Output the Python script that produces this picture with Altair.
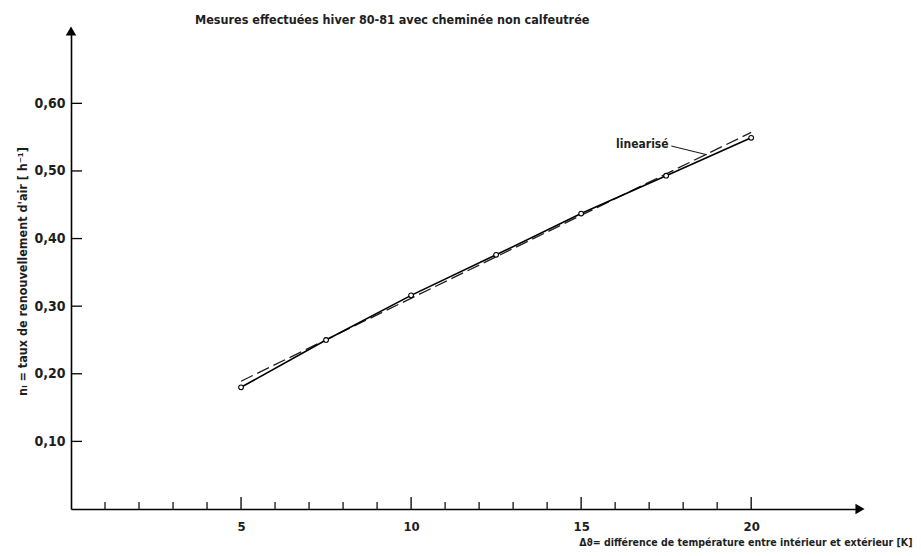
import altair as alt
import pandas as pd

# ---- data ----
delta_t = [5, 7.5, 10, 12.5, 15, 17.5, 20]
n_l = [0.180, 0.250, 0.316, 0.376, 0.437, 0.493, 0.549]

lin_x = [5, 20]
lin_y = [0.189, 0.557]

x_major_ticks = [5, 10, 15, 20]
x_minor_ticks = [1, 2, 3, 4, 6, 7, 8, 9, 11, 12, 13, 14, 16, 17, 18, 19]
y_ticks = [0.1, 0.2, 0.3, 0.4, 0.5, 0.6]

X_MAX = 23.2
Y_MAX = 0.707

label_text = ["linearisé"]
label_x = [16.8]
label_y = [0.540]
leader_x = [17.65, 18.7]
leader_y = [0.537, 0.524]

FONT = "DejaVu Sans Condensed, Liberation Sans, DejaVu Sans, sans-serif"
INK = "#1e1e1e"
W, H = 789, 478

meas = pd.DataFrame({"x": delta_t, "y": n_l})
lin = pd.DataFrame({"x": lin_x, "y": lin_y})
xmaj = pd.DataFrame({"x": x_major_ticks})
xmin = pd.DataFrame({"x": x_minor_ticks})
yt = pd.DataFrame({"y": y_ticks})
lab = pd.DataFrame({"x": label_x, "y": label_y, "t": label_text})
lead = pd.DataFrame({"x": leader_x, "y": leader_y})
arr_x = pd.DataFrame({"x": [X_MAX], "y": [0.0]})
arr_y = pd.DataFrame({"x": [0.0], "y": [Y_MAX]})

xs = alt.Scale(domain=[0, X_MAX], nice=False, zero=False)
ys = alt.Scale(domain=[0, Y_MAX], nice=False, zero=False)

xaxis = alt.Axis(
    values=x_major_ticks, ticks=False, grid=False, domain=True,
    domainColor="black", domainWidth=1.6, labelPadding=11,
    labelFont=FONT, labelFontSize=13, labelFontWeight="bold", labelColor=INK,
    title="Δϑ= différence de température entre intérieur et extérieur [K]",
    titleFont=FONT, titleFontSize=10.5, titleFontWeight="bold", titleColor=INK,
    titleAnchor="end", titleAlign="right", titleX=W + 52, titleY=38,
    titleBaseline="bottom",
)
yaxis = alt.Axis(
    values=y_ticks, ticks=False, grid=False, domain=True,
    domainColor="black", domainWidth=1.6, labelPadding=6,
    labelExpr="replace(format(datum.value, '.2f'), '.', ',')",
    labelFont=FONT, labelFontSize=14, labelFontWeight="bold", labelColor=INK,
    title="nₗ = taux de renouvellement d'air  [ h⁻¹]",
    titleFont=FONT, titleFontSize=12.5, titleFontWeight="bold", titleColor=INK,
    titleX=-49, titleY=240, titleAngle=-90, titleBaseline="middle",
)

base = alt.Chart(meas).encode(
    x=alt.X("x:Q", scale=xs, axis=xaxis),
    y=alt.Y("y:Q", scale=ys, axis=yaxis),
)

line = base.mark_line(color="black", strokeWidth=1.6)
pts = base.mark_point(shape="circle", size=22, filled=True, fill="white",
                      stroke="black", strokeWidth=1.1, opacity=1)

dash = alt.Chart(lin).mark_line(color=INK, strokeWidth=1.3, strokeDash=[13, 5]).encode(
    x=alt.X("x:Q", scale=xs), y=alt.Y("y:Q", scale=ys))

tmin = alt.Chart(xmin).mark_rule(color="black", strokeWidth=1.2).encode(
    x=alt.X("x:Q", scale=xs), y=alt.value(H), y2=alt.value(H - 7))
tmaj = alt.Chart(xmaj).mark_rule(color="black", strokeWidth=1.3).encode(
    x=alt.X("x:Q", scale=xs), y=alt.value(H), y2=alt.value(H - 12))
ytk = alt.Chart(yt).mark_rule(color="black", strokeWidth=1.3).encode(
    y=alt.Y("y:Q", scale=ys), x=alt.value(0), x2=alt.value(11))

ax_arrow = alt.Chart(arr_x).mark_point(shape="triangle-right", size=110, filled=True,
                                       color="black", opacity=1).encode(
    x=alt.X("x:Q", scale=xs), y=alt.Y("y:Q", scale=ys))
ay_arrow = alt.Chart(arr_y).mark_point(shape="triangle-up", size=110, filled=True,
                                       color="black", opacity=1).encode(
    x=alt.X("x:Q", scale=xs), y=alt.Y("y:Q", scale=ys))

ann = alt.Chart(lab).mark_text(font=FONT, fontSize=12, fontWeight="bold", color=INK,
                               align="center", baseline="middle").encode(
    x=alt.X("x:Q", scale=xs), y=alt.Y("y:Q", scale=ys), text="t:N")
leader = alt.Chart(lead).mark_line(color=INK, strokeWidth=1.1).encode(
    x=alt.X("x:Q", scale=xs), y=alt.Y("y:Q", scale=ys))

chart = alt.layer(
    tmin, tmaj, ytk, dash, line, pts, ax_arrow, ay_arrow, ann, leader
).properties(
    width=W, height=H,
    background="white",
    title=alt.TitleParams(
        "Mesures effectuées hiver  80-81 avec cheminée non calfeutrée",
        anchor="start", frame="group", dx=124, offset=0, font=FONT, fontSize=12.5,
        fontWeight="bold", color=INK,
    ),
    autosize=alt.AutoSizeParams(type="none"),
    padding={"left": 63, "top": 23, "right": 53, "bottom": 39},
).configure_view(strokeWidth=0, stroke="transparent")

chart.save("out.html", embed_options={"renderer": "svg", "actions": False})
